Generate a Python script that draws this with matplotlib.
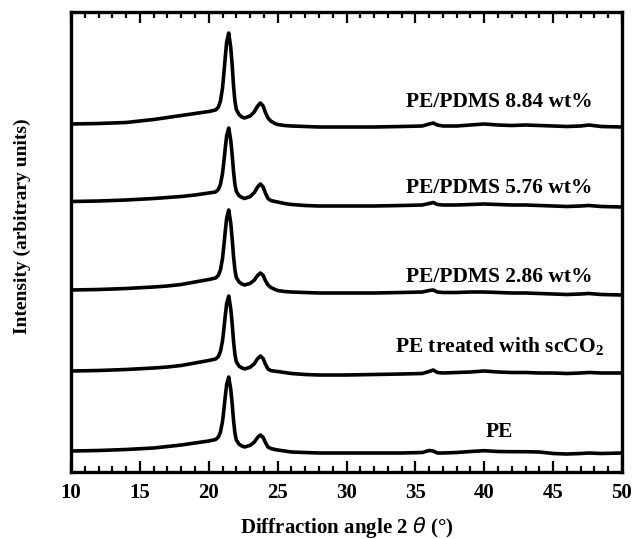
import numpy as np
import matplotlib
matplotlib.use("Agg")
import matplotlib.pyplot as plt
from matplotlib.ticker import MultipleLocator

plt.rcParams.update({
    "font.family": "Liberation Serif",
    "font.weight": "bold",
    "mathtext.fontset": "custom",
    "mathtext.rm": "DejaVu Sans",
    "mathtext.it": "DejaVu Sans:italic:normal",
    "mathtext.bf": "DejaVu Sans:bold",
})

# diffraction angle 2theta (deg), shared by all patterns
two_theta = [10, 12, 14, 16, 17, 18, 19, 20,
             20.5, 20.7, 20.85, 21.0, 21.1, 21.2, 21.3, 21.45, 21.6, 21.7, 21.8,
             21.9, 22.0, 22.2, 22.4, 22.6,
             23.0, 23.3, 23.55, 23.75, 23.95, 24.1, 24.3, 24.5, 24.8, 25.0,
             25.5, 26, 27, 28, 30, 32, 34, 35.5, 36.0, 36.3, 36.6, 37,
             38, 39, 40, 41, 42, 43, 44, 45, 46, 47, 47.6, 48.5, 50]

# stacked intensities (arbitrary units)
pdms_884 = [348, 348.5, 349.5, 352.5, 354.5, 356.5, 358.5, 360.5,
            362, 365, 371, 384, 399, 415, 430, 439, 424, 407, 386,
            371, 362.5, 357.5, 355, 354,
            356, 360, 366, 369, 366, 360, 354, 351, 348.5, 347.5,
            346.5, 346, 345.5, 345, 345, 345, 345.5, 346, 348, 349, 347, 346,
            346, 347, 348, 347, 346.5, 347, 346.5, 346, 345.5, 346, 347, 345.5, 345]
pdms_576 = [270.5, 271, 272, 273.5, 274.5, 275.5, 277, 279,
            280, 282.6, 287.7, 298.6, 310.7, 324.2, 336.3, 344, 331.3, 317.2, 300.3,
            287.6, 280.6, 276.3, 274.6, 273.5,
            275.4, 279.3, 285.1, 288, 285.1, 279.3, 273.5, 271.5, 270.5, 270,
            268.5, 267.5, 266.5, 266, 266, 266, 266.5, 267, 268.5, 269.5, 267.5, 267,
            267, 267.5, 268, 267.5, 267, 267, 266.5, 266, 265.5, 266, 266.5, 265.5, 265]
pdms_286 = [182, 182.5, 183.5, 185, 186, 187.5, 190, 192.5,
            194, 196.7, 202.2, 213.7, 226.6, 240.9, 253.8, 262, 248.5, 233.5, 215.5,
            202, 194.5, 190, 188.1, 187,
            188.6, 191.8, 196.6, 199, 196.6, 191.8, 187, 184.6, 182.6, 181.5,
            180.5, 180, 179.5, 179, 179, 179, 179.5, 180, 181.5, 182, 180, 179.5,
            179.5, 180, 180, 179.5, 179, 179, 178.5, 178, 177.5, 178, 178.5, 177.5, 177]
pe_scco2 = [101, 101.5, 102.5, 104, 105, 106.5, 109, 111.5,
            113, 115.5, 120.6, 131.3, 143.2, 156.5, 168.4, 176, 162.9, 148.3, 130.7,
            117.6, 110.3, 105.9, 104.1, 103,
            104.7, 108.2, 113.4, 116, 113.4, 108.2, 103, 101.4, 100.8, 100.5,
            99.5, 98.5, 97.5, 97, 97, 97.5, 98, 98.5, 100.5, 102, 99.5, 99,
            99.5, 100, 101, 100, 99.5, 99.5, 99, 99, 98.5, 99, 99.5, 99, 99]
pe_neat = [21, 21.5, 22.5, 24, 25.5, 27, 29, 31,
           32.5, 35, 40, 50.6, 62.5, 75.6, 87.5, 95, 82.4, 68.4, 51.6,
           39, 32, 27.8, 26, 25,
           26.6, 29.8, 34.6, 37, 34.6, 29.8, 25, 23.5, 22.5, 22,
           21, 20, 19.5, 19, 19, 19, 19, 19.5, 21.5, 21, 19, 19,
           19.5, 20.5, 21.3, 20.5, 20.3, 20.3, 20, 18.5, 18, 18.5, 19, 18.5, 19]

series = [pdms_884, pdms_576, pdms_286, pe_scco2, pe_neat]
labels = ["PE/PDMS 8.84 wt%", "PE/PDMS 5.76 wt%", "PE/PDMS 2.86 wt%",
          r"PE treated with scCO$_\mathregular{2}$", "PE"]
label_x = 41.1
label_y = [365, 279, 190, 120, 35]

fig = plt.figure(figsize=(6.33, 5.39), dpi=100)
ax = fig.add_axes([71 / 633, 67 / 539, 551 / 633, 460 / 539])

for y in series:
    ax.plot(two_theta, y, color="black", lw=2.6, solid_joinstyle="round")

for txt, ly in zip(labels, label_y):
    ax.text(label_x, ly, txt, ha="center", va="baseline", fontsize=15.5,
            fontweight="bold")

ax.set_xlim(10, 50)
ax.set_ylim(0, 460)
ax.xaxis.set_major_locator(MultipleLocator(5))
ax.xaxis.set_minor_locator(MultipleLocator(1))
ax.set_yticks([])
ax.tick_params(axis="x", which="both", direction="in", top=True, bottom=True,
               width=1.6, labelsize=15, pad=8)
ax.tick_params(axis="x", which="major", length=8)
ax.tick_params(axis="x", which="minor", length=4.5)
for sp in ax.spines.values():
    sp.set_linewidth(2.4)

fig.text(22 / 633, 1 - 226 / 539, "Intensity (arbitrary units)", rotation=90,
         ha="center", va="center", fontsize=14, fontweight="bold")
fig.text(346.5 / 633, 1 - 527 / 539, r"Diffraction angle 2 $\theta$ (°)",
         ha="center", va="center", fontsize=15, fontweight="bold")

fig.savefig("out.png", dpi=100)
